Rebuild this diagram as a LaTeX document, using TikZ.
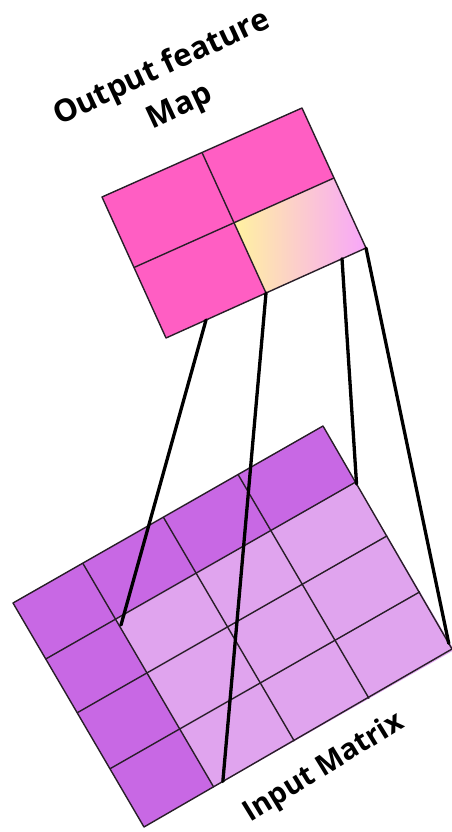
\documentclass[tikz,border=0pt]{standalone}
\usepackage{fontspec}
\setmainfont{Open Sans}
\usetikzlibrary{calc}
\definecolor{hotpink}{RGB}{255,94,195}
\definecolor{darkpurple}{RGB}{200,104,228}
\definecolor{lightpurple}{RGB}{224,164,238}
\definecolor{gradyellow}{RGB}{255,242,160}
\definecolor{gradlav}{RGB}{248,166,250}
\definecolor{edgegray}{RGB}{40,30,40}
\tikzset{
  cellborder/.style={draw=edgegray, line width=1.4pt, line join=round},
  connector/.style={draw=black, line width=3.3pt, line cap=round},
  labeltext/.style={font=\bfseries, text=black, inner sep=0pt, align=center}
}
\begin{document}
\begin{tikzpicture}[x=1pt,y=-1pt]
\useasboundingbox (0,0) rectangle (452,832);
% ---------- input matrix corners ----------
\coordinate (ITL) at (13,603);
\coordinate (ITR) at (323,426);
\coordinate (IBR) at (452,649);
\coordinate (IBL) at (144,827);
\newcommand{\IP}[2]{({13+310*(#1)+131*(#2)},{603-177*(#1)+224*(#2)})}
% fills
\fill[darkpurple] (ITL) -- (ITR) -- (IBR) -- (IBL) -- cycle;
\fill[lightpurple] \IP{0.225}{0.25} -- \IP{1}{0.25} -- \IP{1}{1} -- \IP{0.225}{1} -- cycle;
% grid lines
\foreach \c in {0.225,0.485,0.726} {
  \draw[cellborder] \IP{\c}{0} -- \IP{\c}{1};
}
\foreach \r in {0.25,0.49,0.74} {
  \draw[cellborder] \IP{0}{\r} -- \IP{1}{\r};
}
\draw[cellborder] (ITL) -- (ITR) -- (IBR) -- (IBL) -- cycle;
% ---------- output feature map ----------
\coordinate (OTL) at (102,197);
\coordinate (OTR) at (302,108);
\coordinate (OBR) at (366,248);
\coordinate (OBL) at (166,338);
\coordinate (OTM) at ($(OTL)!0.5!(OTR)$);
\coordinate (OBM) at ($(OBL)!0.5!(OBR)$);
\coordinate (OLM) at ($(OTL)!0.5!(OBL)$);
\coordinate (ORM) at ($(OTR)!0.5!(OBR)$);
\coordinate (OC) at ($(OTM)!0.5!(OBM)$);
\fill[hotpink] (OTL) -- (OTR) -- (OBR) -- (OBL) -- cycle;
\shade[left color=gradyellow, right color=gradlav] (OC) -- (ORM) -- (OBR) -- (OBM) -- cycle;
\draw[cellborder] (OTM) -- (OBM);
\draw[cellborder] (OLM) -- (ORM);
\draw[cellborder] (OTL) -- (OTR) -- (OBR) -- (OBL) -- cycle;
% ---------- connector end points ----------
\coordinate (a1) at ($(OBL)!0.2!(OBR)$);
\coordinate (b1) at (121,625);
\coordinate (a2) at (OBM);
\coordinate (b2) at ($(IBL)!0.256!(IBR)$);
\coordinate (a3) at ($(OBL)!0.88!(OBR)$);
\coordinate (b3) at ($(ITR)!0.26!(IBR)$);
\coordinate (a4) at (OBR);
\coordinate (b4) at ($(ITR)!0.975!(IBR)$);
\draw[connector] (a1) -- (b1);
\draw[connector] (a2) -- (b2);
\draw[connector] (a3) -- (b3);
\draw[connector] (a4) -- (b4);
% ---------- labels ----------
\node[labeltext, rotate=25, font=\bfseries\fontsize{31}{43}\selectfont] (outlabel) at (171,88) {Output feature\\Map};
\node[labeltext, rotate=31.5, font=\bfseries\fontsize{29}{32}\selectfont] (inlabel) at (324,768) {Input Matrix};
\end{tikzpicture}
\end{document}
